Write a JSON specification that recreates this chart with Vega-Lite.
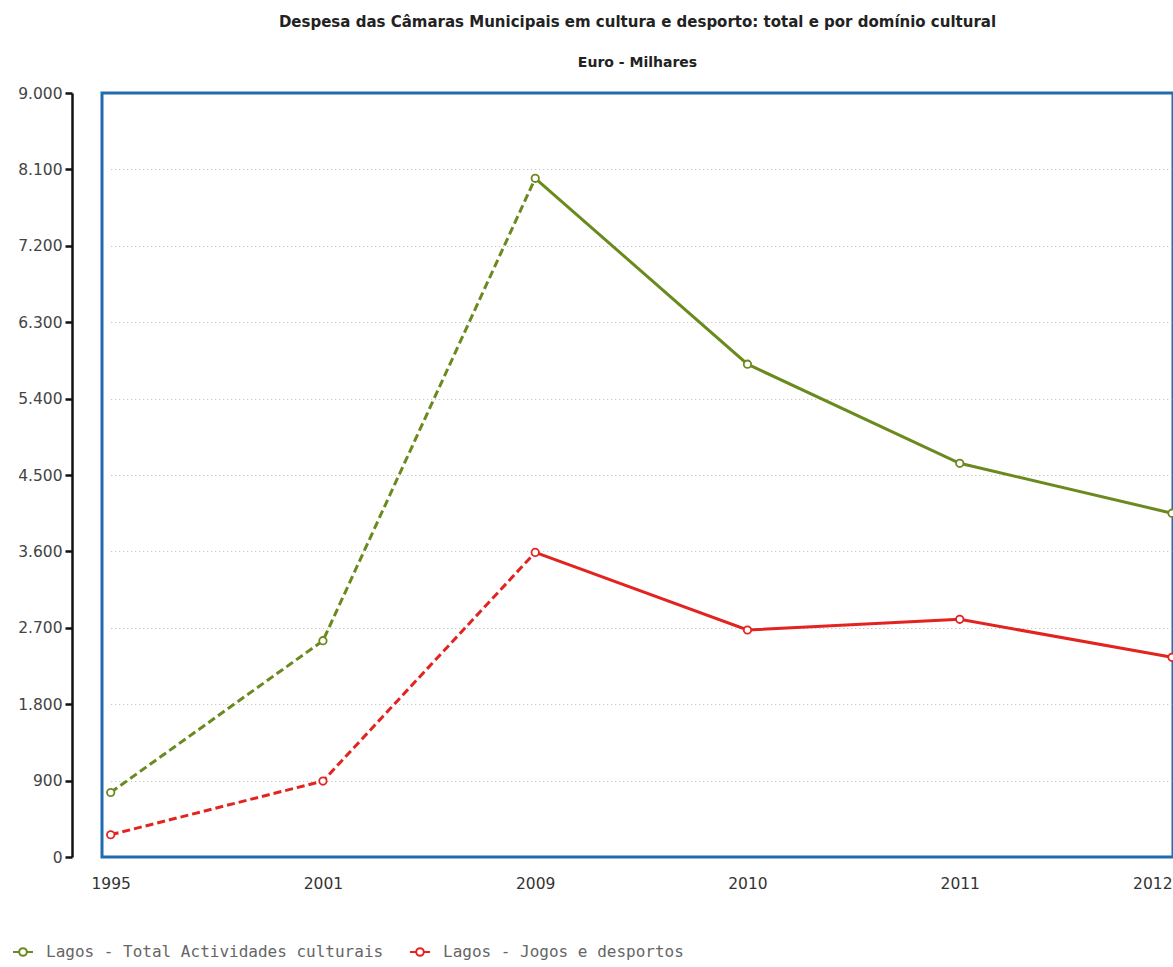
{
  "$schema": "https://vega.github.io/schema/vega-lite/v6.json",
  "width": 1071,
  "height": 764,
  "autosize": {"type": "none"},
  "padding": {"left": 102, "top": 93, "right": 0, "bottom": 110},
  "background": "white",
  "title": {
    "text": "Despesa das Câmaras Municipais em cultura e desporto: total e por domínio cultural",
    "subtitle": "Euro - Milhares",
    "anchor": "middle",
    "frame": "group",
    "font": "DejaVu Sans",
    "fontSize": 15,
    "fontWeight": "bold",
    "color": "#222",
    "subtitleFont": "DejaVu Sans",
    "subtitleFontSize": 14,
    "subtitleFontWeight": "bold",
    "subtitleColor": "#222",
    "subtitlePadding": 26,
    "offset": 16
  },
  "data": {
    "values": [
      {"ano": "1995", "serie": "Lagos - Total Actividades culturais", "valor": 760},
      {"ano": "2001", "serie": "Lagos - Total Actividades culturais", "valor": 2548},
      {"ano": "2009", "serie": "Lagos - Total Actividades culturais", "valor": 7995},
      {"ano": "2010", "serie": "Lagos - Total Actividades culturais", "valor": 5805},
      {"ano": "2011", "serie": "Lagos - Total Actividades culturais", "valor": 4638},
      {"ano": "2012", "serie": "Lagos - Total Actividades culturais", "valor": 4050},
      {"ano": "1995", "serie": "Lagos - Jogos e desportos", "valor": 262},
      {"ano": "2001", "serie": "Lagos - Jogos e desportos", "valor": 895},
      {"ano": "2009", "serie": "Lagos - Jogos e desportos", "valor": 3588},
      {"ano": "2010", "serie": "Lagos - Jogos e desportos", "valor": 2674},
      {"ano": "2011", "serie": "Lagos - Jogos e desportos", "valor": 2800},
      {"ano": "2012", "serie": "Lagos - Jogos e desportos", "valor": 2352}
    ]
  },
  "encoding": {
    "x": {
      "field": "ano",
      "type": "ordinal",
      "sort": ["1995", "2001", "2009", "2010", "2011", "2012"],
      "scale": {"type": "point", "range": [8.7, 1070], "padding": 0},
      "axis": {
        "title": null,
        "domain": false,
        "ticks": false,
        "grid": false,
        "labelAngle": 0,
        "labelPadding": 19,
        "labelFont": "DejaVu Sans",
        "labelFontSize": 15.5,
        "labelColor": "#333",
        "labelAlign": {"condition": {"test": "datum.value == '2012'", "value": "right"}, "value": "center"},
        "labelOverlap": false
      }
    },
    "y": {
      "field": "valor",
      "type": "quantitative",
      "scale": {"domain": [0, 9000], "nice": false, "zero": true},
      "axis": {
        "title": null,
        "values": [0, 900, 1800, 2700, 3600, 4500, 5400, 6300, 7200, 8100, 9000],
        "labelExpr": "replace(format(datum.value, ','), ',', '.')",
        "offset": 30,
        "domainColor": "#111",
        "domainWidth": 2.5,
        "tickColor": "#111",
        "tickWidth": 2.5,
        "tickSize": 7,
        "labelPadding": 3,
        "labelFont": "DejaVu Sans",
        "labelFontSize": 15.5,
        "labelColor": "#444",
        "grid": true,
        "gridColor": {"condition": {"test": "datum.value == 0 || datum.value == 9000", "value": null}, "value": "#b8b8b8"},
        "gridDash": [1, 3],
        "gridWidth": 1.2
      }
    },
    "color": {
      "field": "serie",
      "type": "nominal",
      "scale": {
        "domain": ["Lagos - Total Actividades culturais", "Lagos - Jogos e desportos"],
        "range": ["#6b8a1e", "#e2231f"]
      },
      "legend": {
        "orient": "none",
        "direction": "horizontal",
        "legendX": -90,
        "legendY": 848,
        "title": null,
        "labelFont": "DejaVu Sans Mono",
        "labelFontSize": 16,
        "labelColor": "#666",
        "labelLimit": 0,
        "symbolType": "M-1,0L-0.38,0M0.38,0L1,0M0.38,0A0.38,0.38,0,1,1,-0.38,0A0.38,0.38,0,1,1,0.38,0",
        "symbolSize": 400,
        "symbolStrokeWidth": 2,
        "symbolFillColor": "white",
        "labelOffset": 12,
        "columnPadding": 22
      }
    }
  },
  "layer": [
    {
      "transform": [{"filter": {"field": "ano", "oneOf": ["1995", "2001", "2009"]}}],
      "mark": {"type": "line", "strokeWidth": 3, "strokeDash": [8, 4]}
    },
    {
      "transform": [{"filter": {"field": "ano", "oneOf": ["2009", "2010", "2011", "2012"]}}],
      "mark": {"type": "line", "strokeWidth": 3}
    },
    {
      "mark": {"type": "point", "filled": false, "fill": "white", "fillOpacity": 1, "opacity": 1, "strokeWidth": 1.8, "size": 55}
    }
  ],
  "config": {
    "view": {"stroke": "#1f6cb0", "strokeWidth": 3}
  }
}
